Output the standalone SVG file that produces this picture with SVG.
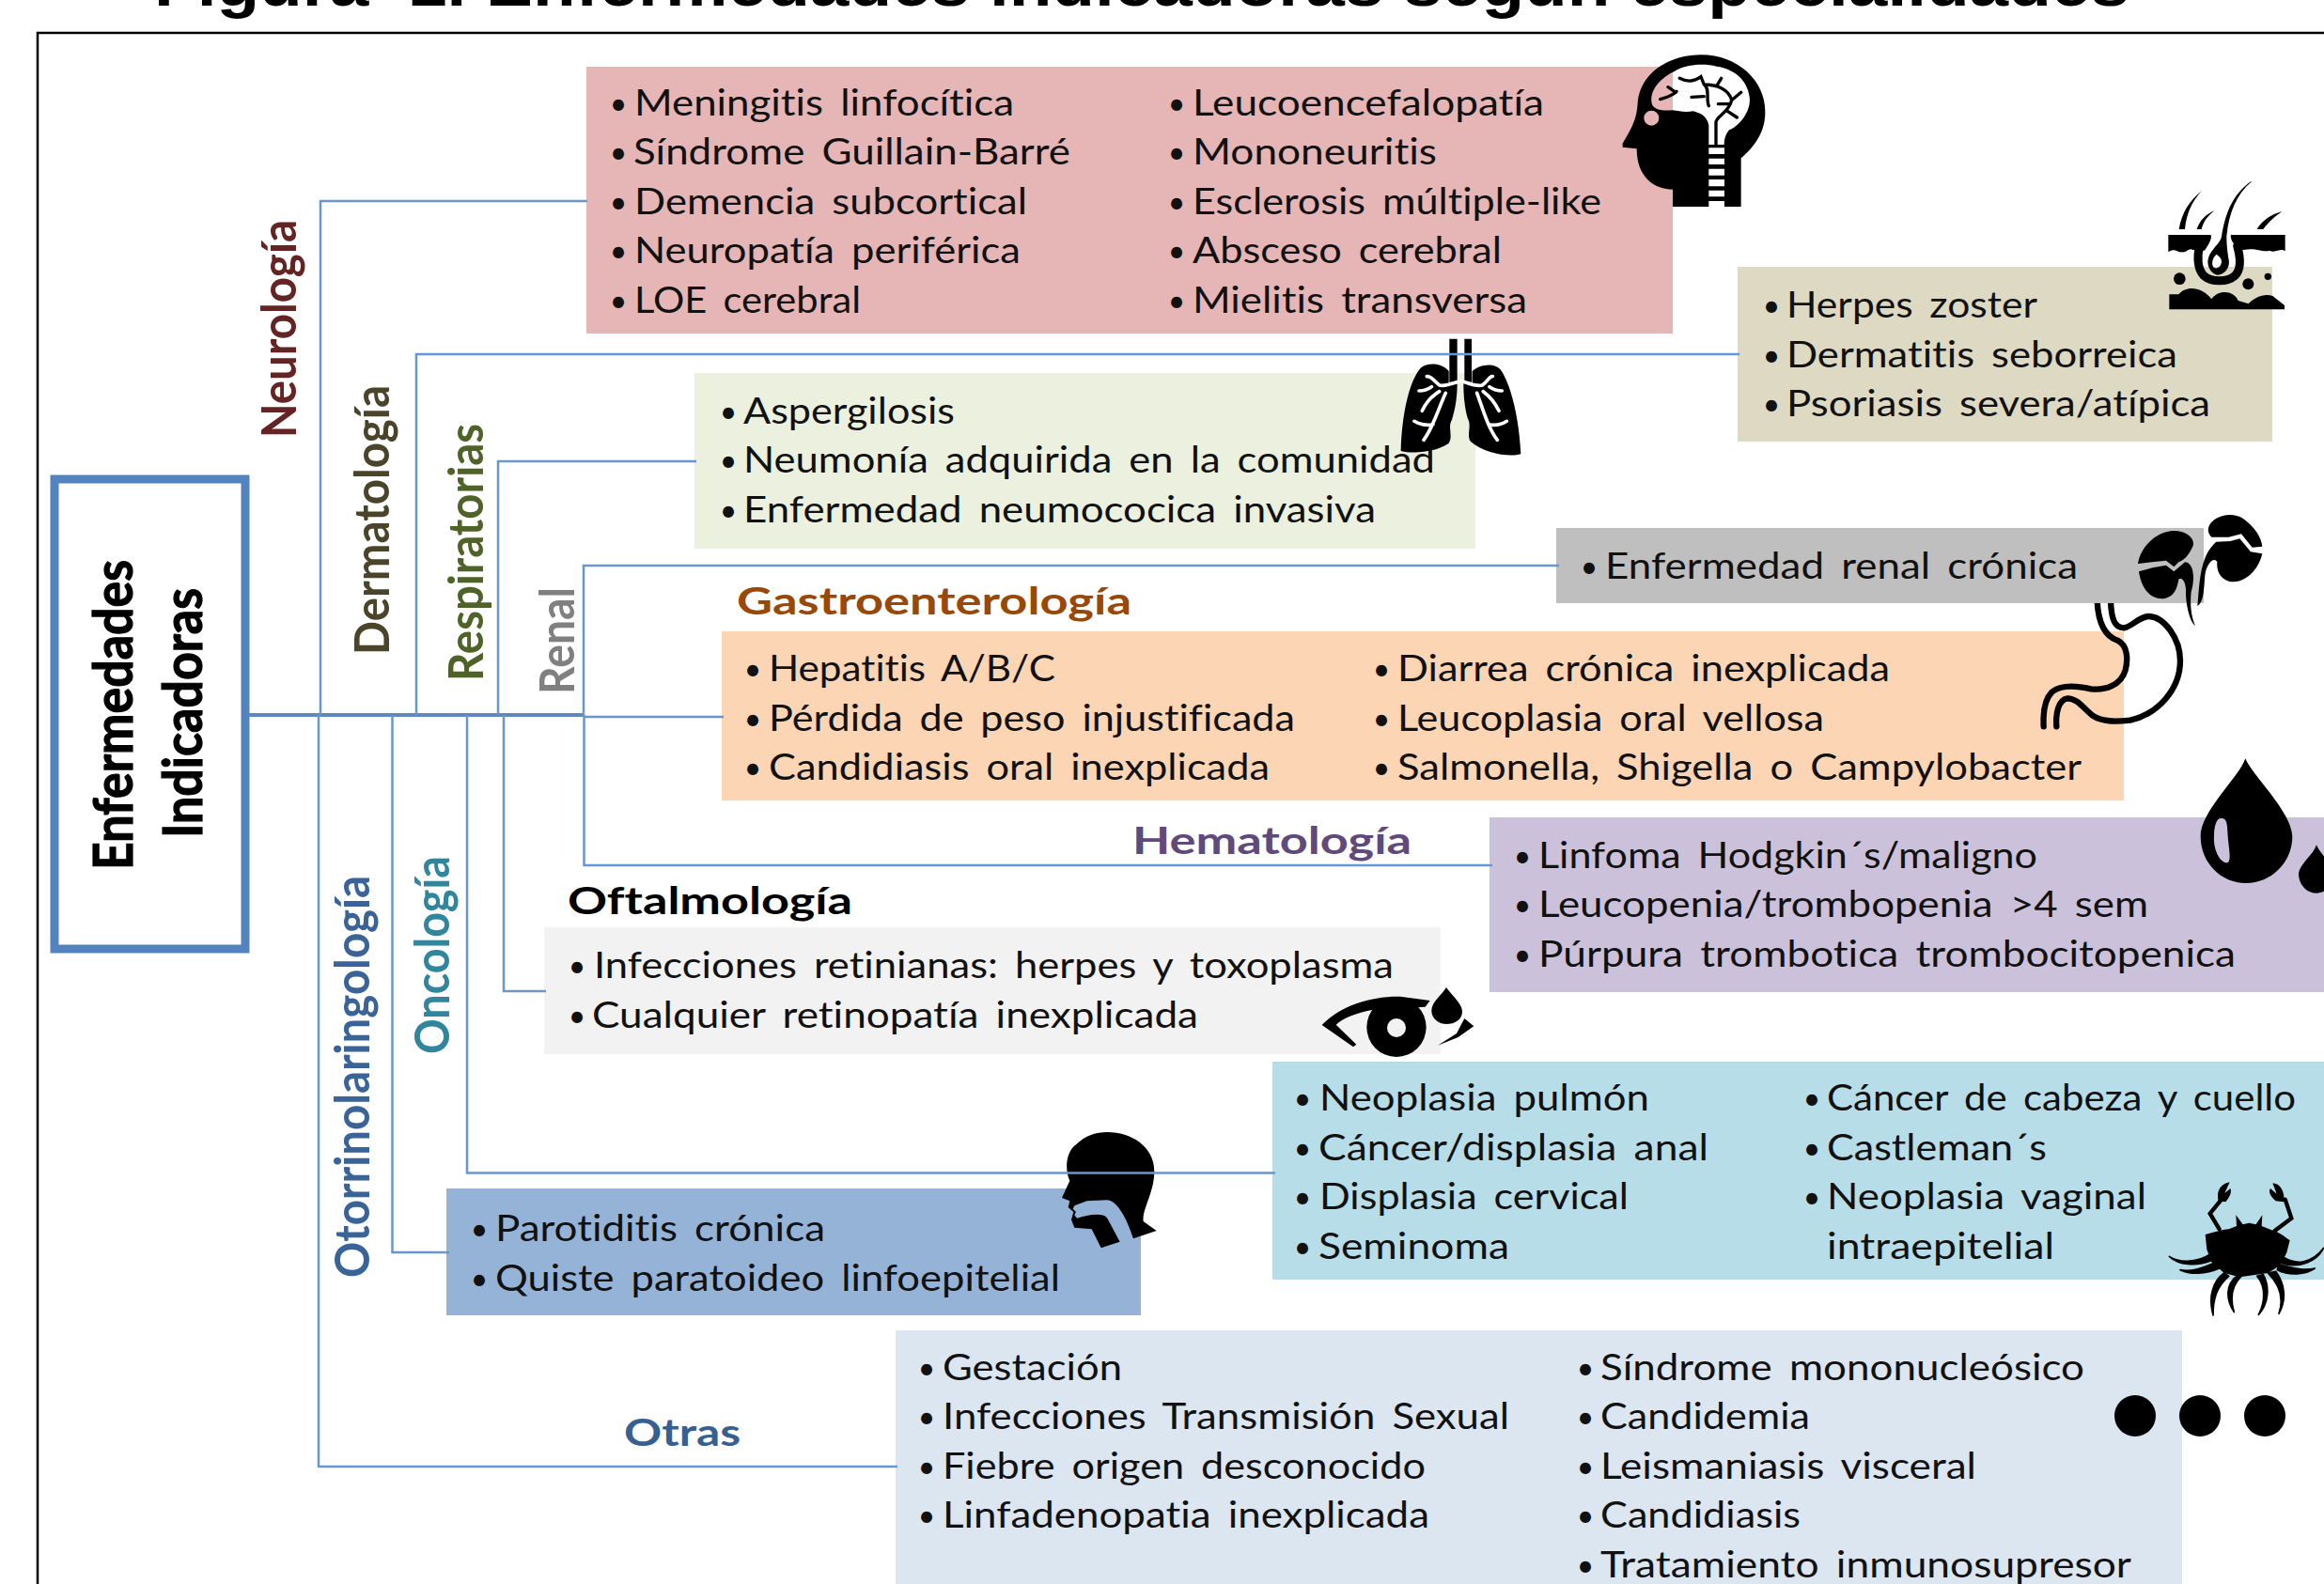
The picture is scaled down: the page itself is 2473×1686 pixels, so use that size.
<svg xmlns="http://www.w3.org/2000/svg" width="2473" height="1686" viewBox="0 0 2473 1686">
<style>
text{font-family:"Lato","Open Sans","Liberation Sans",sans-serif;fill:#111;font-variant-ligatures:none}
.t{font-size:38px;word-spacing:6px}
.b{font-size:32px;text-anchor:middle}
.h{font-size:40px;font-weight:700}
.r{font-size:52px;font-weight:700}
.m{font-size:58px;font-weight:700;fill:#000;stroke:#000;stroke-width:1.2px}
.ttl{font-family:"Liberation Sans",Arial,sans-serif;font-size:66px;font-weight:700;fill:#000}
.c{fill:none;stroke:#6a96cc;stroke-width:2.5}
.k{fill:#000;fill-rule:evenodd}
.s{fill:none;stroke:#000;stroke-linecap:round}
.w{fill:none;stroke:#fff;stroke-width:11;stroke-linecap:round}
</style>
<rect width="2473" height="1686" fill="#fff"/>
<text class="ttl" x="164" y="6" xml:space="preserve" textLength="2102" lengthAdjust="spacingAndGlyphs">Figura  1. Enfermedades indicadoras según especialidades</text>
<path d="M2473 35H40V1686" fill="none" stroke="#000" stroke-width="2.5"/>

<g id="main">
<rect x="58" y="510" width="203" height="500" fill="#fff" stroke="#5383be" stroke-width="9"/>
<text class="m" transform="translate(141 926) rotate(-90)" textLength="330" lengthAdjust="spacingAndGlyphs">Enfermedades</text>
<text class="m" transform="translate(215 892) rotate(-90)" textLength="266" lengthAdjust="spacingAndGlyphs">Indicadoras</text>
</g>

<g id="neurologia">
<text class="r" style="fill:#632423" transform="translate(315 466) rotate(-90)" textLength="232" lengthAdjust="spacingAndGlyphs">Neurología</text>
<rect x="624" y="71" width="1156" height="284" fill="#e6b5b5"/>
<text class="b" x="658" y="122">•</text><text class="t" x="675" y="123" textLength="404" lengthAdjust="spacingAndGlyphs">Meningitis linfocítica</text>
<text class="b" x="658" y="174">•</text><text class="t" x="674" y="175" textLength="465" lengthAdjust="spacingAndGlyphs">Síndrome Guillain-Barré</text>
<text class="b" x="658" y="227">•</text><text class="t" x="675" y="228" textLength="418" lengthAdjust="spacingAndGlyphs">Demencia subcortical</text>
<text class="b" x="658" y="279">•</text><text class="t" x="675" y="280" textLength="411" lengthAdjust="spacingAndGlyphs">Neuropatía periférica</text>
<text class="b" x="658" y="332">•</text><text class="t" x="675" y="333" textLength="241" lengthAdjust="spacingAndGlyphs">LOE cerebral</text>
<text class="b" x="1252" y="122">•</text><text class="t" x="1269" y="123" textLength="374" lengthAdjust="spacingAndGlyphs">Leucoencefalopatía</text>
<text class="b" x="1252" y="174">•</text><text class="t" x="1269" y="175" textLength="260" lengthAdjust="spacingAndGlyphs">Mononeuritis</text>
<text class="b" x="1252" y="227">•</text><text class="t" x="1269" y="228" textLength="435" lengthAdjust="spacingAndGlyphs">Esclerosis múltiple-like</text>
<text class="b" x="1252" y="279">•</text><text class="t" x="1269" y="280" textLength="329" lengthAdjust="spacingAndGlyphs">Absceso cerebral</text>
<text class="b" x="1252" y="332">•</text><text class="t" x="1269" y="333" textLength="356" lengthAdjust="spacingAndGlyphs">Mielitis transversa</text>
<g transform="translate(1680 40) scale(.3333)">
<path class="k" d="M300 540V485C245 485 185 450 185 355L140 350V338C165 295 185 265 188 210C195 110 290 55 390 55C510 55 595 140 595 235C597 300 560 350 518 385V540ZM232 205C228 160 270 125 305 108C340 85 400 82 440 92C500 100 540 140 545 190C552 235 510 285 480 295C468 310 464 325 464 342H415V280C410 250 385 240 365 235C340 240 320 235 300 232C260 235 235 230 232 205ZM208 257a24 24 0 1 0 48 0a24 24 0 1 0 -48 0ZM415 352H465V372H415ZM415 386H465V405H415ZM415 419H465V440H415ZM415 453H465V475H415ZM415 488H465V508H415ZM415 522H465V540H415Z"/>
<path class="s" stroke-width="10" d="M260 197C285 190 300 185 312 172M285 158L310 175M322 130C345 142 370 140 390 125L400 150C420 165 405 195 415 218M440 155L455 130M400 150C440 150 480 165 488 200L518 175M360 190L400 188M438 342V270C440 250 480 240 488 200M445 212H480M475 235L505 255"/>
</g>
</g>

<g id="dermatologia">
<text class="r" style="fill:#4a452a" transform="translate(414 697) rotate(-90)" textLength="287" lengthAdjust="spacingAndGlyphs">Dermatología</text>
<rect x="1849" y="284" width="569" height="186" fill="#ddd9c3"/>
<text class="b" x="1885" y="337">•</text><text class="t" x="1901" y="338" textLength="267" lengthAdjust="spacingAndGlyphs">Herpes zoster</text>
<text class="b" x="1885" y="390">•</text><text class="t" x="1901" y="391" textLength="416" lengthAdjust="spacingAndGlyphs">Dermatitis seborreica</text>
<text class="b" x="1885" y="442">•</text><text class="t" x="1901" y="443" textLength="451" lengthAdjust="spacingAndGlyphs">Psoriasis severa/atípica</text>
<g transform="translate(2270 170) scale(.3333)">
<path class="k" d="M112 240H248C252 255 240 270 228 290L190 288C178 280 170 298 155 295C140 298 135 280 112 295ZM312 240H485V292C470 280 455 300 435 290C415 298 395 280 352 288L335 285C322 270 308 255 312 240Z"/>
<path class="s" stroke-width="27" stroke-linecap="butt" d="M212 275C203 310 205 350 225 370C250 392 300 392 325 370C345 350 342 310 332 275"/>
<path class="k" d="M375 70C320 110 295 165 282 245C278 270 240 290 238 325C238 355 260 368 270 368C290 368 310 345 305 320C300 290 298 270 298 245C305 170 330 110 378 70ZM265 303C252 315 248 335 258 345C270 350 282 340 282 325C282 315 272 305 265 303Z"/>
<path class="k" d="M218 100C180 130 155 170 146 222H165C170 170 190 130 218 100ZM260 162C230 175 212 195 203 222H218C225 195 240 178 260 162ZM475 165C440 175 410 195 395 222H415C435 195 455 180 475 165Z"/>
<circle cx="148" cy="380" r="19"/><circle cx="367" cy="397" r="18"/><circle cx="430" cy="373" r="11"/>
<path class="k" d="M115 430H145C165 405 215 400 250 445C270 415 320 415 335 450L368 460C385 440 420 425 445 435L483 465V478H115Z"/>
</g>
</g>

<g id="respiratorias">
<text class="r" style="fill:#4f6228" transform="translate(514 725) rotate(-90)" textLength="274" lengthAdjust="spacingAndGlyphs">Respiratorias</text>
<rect x="739" y="397" width="831" height="187" fill="#ebf1de"/>
<text class="b" x="775" y="450">•</text><text class="t" x="791" y="451" textLength="225" lengthAdjust="spacingAndGlyphs">Aspergilosis</text>
<text class="b" x="775" y="502">•</text><text class="t" x="791" y="503" textLength="736" lengthAdjust="spacingAndGlyphs">Neumonía adquirida en la comunidad</text>
<text class="b" x="775" y="555">•</text><text class="t" x="791" y="556" textLength="673" lengthAdjust="spacingAndGlyphs">Enfermedad neumococica invasiva</text>
<g transform="translate(1460 340) scale(.3333)">
<path class="k" d="M247 62H272V200H247ZM295 62H318V200H295ZM245 165C225 140 180 135 155 155C120 195 95 300 92 420C130 430 200 425 245 395C260 370 240 345 255 320C268 280 272 240 272 205L245 205ZM320 165C340 145 390 135 410 160C445 210 470 320 475 430C440 440 360 430 315 390C300 370 320 340 305 315C295 280 292 240 292 205H320Z"/>
<path class="w" stroke-width="9" d="M280 197C255 205 235 215 215 210C195 195 190 180 175 182M150 228C165 228 180 222 190 215M235 235C210 290 195 345 165 385M215 230C190 245 170 270 160 292M195 335C175 340 150 335 135 325M288 197C312 205 332 215 352 210C372 195 375 180 385 182M415 228C400 228 385 222 375 215M335 235C355 290 370 345 400 385M355 230C375 245 395 270 405 292M372 335C392 340 415 335 430 325"/>
</g>
</g>

<g id="gastroenterologia">
<text class="h" style="fill:#984807" x="784" y="654" textLength="420" lengthAdjust="spacingAndGlyphs">Gastroenterología</text>
<rect x="768" y="672" width="1492" height="180" fill="#fcd5b5"/>
<text class="b" x="801" y="724">•</text><text class="t" x="818" y="725" textLength="305" lengthAdjust="spacingAndGlyphs">Hepatitis A/B/C</text>
<text class="b" x="801" y="777">•</text><text class="t" x="818" y="778" textLength="560" lengthAdjust="spacingAndGlyphs">Pérdida de peso injustificada</text>
<text class="b" x="801" y="829">•</text><text class="t" x="818" y="830" textLength="533" lengthAdjust="spacingAndGlyphs">Candidiasis oral inexplicada</text>
<text class="b" x="1470" y="724">•</text><text class="t" x="1487" y="725" textLength="524" lengthAdjust="spacingAndGlyphs">Diarrea crónica inexplicada</text>
<text class="b" x="1470" y="777">•</text><text class="t" x="1487" y="778" textLength="454" lengthAdjust="spacingAndGlyphs">Leucoplasia oral vellosa</text>
<text class="b" x="1470" y="829">•</text><text class="t" x="1487" y="830" textLength="728" lengthAdjust="spacingAndGlyphs">Salmonella, Shigella o Campylobacter</text>
<g transform="translate(2150 530) scale(.3333)">
<path class="s" stroke-width="19" d="M245 330C248 390 265 440 310 455C340 470 345 510 335 550C320 600 270 615 225 610C180 600 130 595 100 620C75 645 72 690 74 730"/>
<path class="s" stroke-width="19" d="M288 330C290 385 300 415 330 415C360 410 375 380 410 378C460 380 510 450 510 520C510 610 440 690 350 710C300 715 260 715 230 695C200 670 180 640 150 640C120 645 112 690 115 730"/>
</g>
</g>

<g id="renal">
<text class="r" style="fill:#808080" transform="translate(611 739) rotate(-90)" textLength="114" lengthAdjust="spacingAndGlyphs">Renal</text>
<rect x="1656" y="562" width="689" height="80" fill="#bfbfbf"/>
<text class="b" x="1691" y="615">•</text><text class="t" x="1708" y="616" textLength="503" lengthAdjust="spacingAndGlyphs">Enfermedad renal crónica</text>
<g transform="translate(2150 530) scale(.3333)">
<path class="k" d="M375 210C385 150 440 105 490 105C530 105 560 130 550 155C540 175 530 195 505 205L490 220L465 200L420 205Z"/>
<path class="k" d="M378 235L425 222L465 215L490 235L525 205C550 205 560 250 545 300C540 350 548 385 558 408C540 395 528 340 528 300C530 270 515 250 505 260C500 290 490 320 450 322C410 320 385 285 378 235Z"/>
<path class="k" d="M600 95C610 60 670 40 710 65C745 90 770 125 772 155L740 158L705 115L665 125L610 125C600 115 598 105 600 95Z"/>
<path class="k" d="M625 140L670 138L700 130L735 172L772 178C760 230 720 268 680 268C650 268 625 245 628 205C620 190 600 200 590 240C585 285 588 330 565 345C570 300 570 240 590 190C600 165 615 150 625 140Z"/>
</g>
</g>

<g id="hematologia">
<text class="h" style="fill:#604a7b" x="1205" y="909" textLength="297" lengthAdjust="spacingAndGlyphs">Hematología</text>
<rect x="1585" y="870" width="888" height="186" fill="#ccc1da"/>
<text class="b" x="1620" y="923">•</text><text class="t" x="1637" y="924" textLength="531" lengthAdjust="spacingAndGlyphs">Linfoma Hodgkin´s/maligno</text>
<text class="b" x="1620" y="975">•</text><text class="t" x="1637" y="976" textLength="649" lengthAdjust="spacingAndGlyphs">Leucopenia/trombopenia >4 sem</text>
<text class="b" x="1620" y="1028">•</text><text class="t" x="1637" y="1029" textLength="742" lengthAdjust="spacingAndGlyphs">Púrpura trombotica trombocitopenica</text>
<g transform="translate(2320 790) scale(.3333)">
<path class="k" d="M208 52C225 100 355 220 358 300C358 385 290 450 210 450C130 450 65 385 65 300C65 220 190 110 208 52ZM128 243C150 240 150 260 152 300C155 340 165 380 150 385C125 385 105 340 108 300C108 270 115 245 128 243Z"/>
<path class="k" d="M435 328C445 355 480 380 490 420C490 460 460 482 435 482C400 482 378 450 378 420C380 390 425 360 435 328Z"/>
</g>
</g>

<g id="oftalmologia">
<text class="h" style="fill:#000" x="604" y="973" textLength="303" lengthAdjust="spacingAndGlyphs">Oftalmología</text>
<rect x="579" y="987" width="954" height="135" fill="#f2f2f2"/>
<text class="b" x="614" y="1040">•</text><text class="t" x="632" y="1041" textLength="851" lengthAdjust="spacingAndGlyphs">Infecciones retinianas: herpes y toxoplasma</text>
<text class="b" x="614" y="1093">•</text><text class="t" x="630" y="1094" textLength="645" lengthAdjust="spacingAndGlyphs">Cualquier retinopatía inexplicada</text>
<g transform="translate(1380 1030) scale(.3333)">
<circle cx="318" cy="190" r="95" class="k"/><circle cx="318" cy="192" r="30" fill="#f2f2f2"/>
<path class="k" d="M80 183C140 120 240 90 330 92L425 105L410 125L240 135C190 145 150 160 125 182L190 245L180 253Z"/>
<path class="k" d="M477 63C500 95 528 115 528 140C528 165 505 180 477 180C450 180 430 160 430 138C430 110 460 90 477 63ZM450 248L510 210L535 162L565 187L515 222Z"/>
</g>
</g>

<g id="oncologia">
<text class="r" style="fill:#31859c" transform="translate(478 1122) rotate(-90)" textLength="211" lengthAdjust="spacingAndGlyphs">Oncología</text>
<rect x="1354" y="1130" width="1119" height="232" fill="#b7dde8"/>
<text class="b" x="1386" y="1181">•</text><text class="t" x="1404" y="1182" textLength="351" lengthAdjust="spacingAndGlyphs">Neoplasia pulmón</text>
<text class="b" x="1386" y="1234">•</text><text class="t" x="1403" y="1235" textLength="415" lengthAdjust="spacingAndGlyphs">Cáncer/displasia anal</text>
<text class="b" x="1386" y="1286">•</text><text class="t" x="1404" y="1287" textLength="329" lengthAdjust="spacingAndGlyphs">Displasia cervical</text>
<text class="b" x="1386" y="1339">•</text><text class="t" x="1403" y="1340" textLength="203" lengthAdjust="spacingAndGlyphs">Seminoma</text>
<text class="b" x="1928" y="1181">•</text><text class="t" x="1944" y="1182" textLength="499" lengthAdjust="spacingAndGlyphs">Cáncer de cabeza y cuello</text>
<text class="b" x="1928" y="1234">•</text><text class="t" x="1944" y="1235" textLength="234" lengthAdjust="spacingAndGlyphs">Castleman´s</text>
<text class="b" x="1928" y="1286">•</text><text class="t" x="1944" y="1287" textLength="340" lengthAdjust="spacingAndGlyphs">Neoplasia vaginal</text>
<text class="t" x="1944" y="1340" textLength="242" lengthAdjust="spacingAndGlyphs">intraepitelial</text>
<g transform="translate(2290 1240) scale(.3333)">
<path class="k" d="M170 222C200 215 230 205 245 205L270 195L268 160L290 190L310 185L332 190L352 160L350 195L380 207C410 215 430 235 440 240L430 280L410 320L370 345L280 358L230 345L190 310L175 270Z"/>
<path class="s" stroke-width="13" d="M215 205L185 155L222 110M392 210L445 170L425 110"/>
<path class="k" d="M248 55C215 60 205 90 212 115L235 118C250 100 255 85 250 75L232 90ZM385 58C415 60 425 95 420 118L395 115C378 100 370 85 378 75L398 92Z"/>
<path class="k" stroke="#000" stroke-width="5" stroke-linejoin="round" d="M55 292C90 315 150 310 185 285L190 305C140 325 85 320 55 292ZM90 335C130 345 180 320 205 310L215 330C170 350 120 350 90 335ZM548 265C510 315 460 320 420 295L415 315C470 330 525 310 548 265ZM520 330C480 340 440 325 405 318L400 335C440 355 490 350 520 330ZM230 345C195 370 178 420 195 480C195 430 205 390 245 355ZM270 355C235 380 235 430 262 470C250 430 250 390 285 355ZM335 355C365 390 360 440 340 478C375 440 375 385 355 350ZM370 345C410 385 420 430 405 475C430 430 425 380 395 340Z"/>
</g>
</g>

<g id="otorrinolaringologia">
<text class="r" style="fill:#3a6398" transform="translate(393 1360) rotate(-90)" textLength="428" lengthAdjust="spacingAndGlyphs">Otorrinolaringología</text>
<rect x="475" y="1265" width="739" height="135" fill="#95b3d7"/>
<text class="b" x="510" y="1320">•</text><text class="t" x="527" y="1321" textLength="351" lengthAdjust="spacingAndGlyphs">Parotiditis crónica</text>
<text class="b" x="510" y="1373">•</text><text class="t" x="527" y="1374" textLength="601" lengthAdjust="spacingAndGlyphs">Quiste paratoideo linfoepitelial</text>
<g transform="translate(1110 1190) scale(.3333)">
<path class="k" d="M205 45C280 45 355 90 355 170C355 240 315 290 320 330L362 360L288 385C270 330 240 265 205 262L140 265L100 280L95 290L105 300L100 310L108 320C140 310 190 300 205 320L245 395L185 415L155 355L100 350L90 325L97 300L80 285L85 265L60 255L85 200C70 170 70 110 105 85C135 55 170 45 205 45Z"/>
</g>
</g>

<g id="otras">
<text class="h" style="fill:#366092" x="664" y="1539" textLength="124" lengthAdjust="spacingAndGlyphs">Otras</text>
<rect x="953" y="1416" width="1369" height="270" fill="#dce6f1"/>
<text class="b" x="986" y="1468">•</text><text class="t" x="1003" y="1469" textLength="191" lengthAdjust="spacingAndGlyphs">Gestación</text>
<text class="b" x="986" y="1520">•</text><text class="t" x="1003" y="1521" textLength="603" lengthAdjust="spacingAndGlyphs">Infecciones Transmisión Sexual</text>
<text class="b" x="986" y="1573">•</text><text class="t" x="1003" y="1574" textLength="514" lengthAdjust="spacingAndGlyphs">Fiebre origen desconocido</text>
<text class="b" x="986" y="1625">•</text><text class="t" x="1003" y="1626" textLength="518" lengthAdjust="spacingAndGlyphs">Linfadenopatia inexplicada</text>
<text class="b" x="1687" y="1468">•</text><text class="t" x="1703" y="1469" textLength="515" lengthAdjust="spacingAndGlyphs">Síndrome mononucleósico</text>
<text class="b" x="1687" y="1520">•</text><text class="t" x="1703" y="1521" textLength="223" lengthAdjust="spacingAndGlyphs">Candidemia</text>
<text class="b" x="1687" y="1573">•</text><text class="t" x="1703" y="1574" textLength="400" lengthAdjust="spacingAndGlyphs">Leismaniasis visceral</text>
<text class="b" x="1687" y="1625">•</text><text class="t" x="1703" y="1626" textLength="213" lengthAdjust="spacingAndGlyphs">Candidiasis</text>
<text class="b" x="1687" y="1678">•</text><text class="t" x="1703" y="1679" textLength="565" lengthAdjust="spacingAndGlyphs">Tratamiento inmunosupresor</text>
<circle cx="2272" cy="1507" r="22"/><circle cx="2341" cy="1507" r="22"/><circle cx="2410" cy="1507" r="22"/>
</g>

<g id="connectors">
<path d="M265 761H621" fill="none" stroke="#5a88c2" stroke-width="4"/>
<path class="c" d="M621 763H770"/>
<path class="c" d="M341 761V214H625"/>
<path class="c" d="M443 761V377H1851"/>
<path class="c" d="M530 761V491H741"/>
<path class="c" d="M621 761V602H1659"/>
<path class="c" d="M339 761V1561H955"/>
<path class="c" d="M417.500 761V1333H478"/>
<path class="c" d="M497 761V1248.500H1357"/>
<path class="c" d="M536 761V1055H581"/>
<path class="c" d="M621.500 761V921H1588"/>
</g>
</svg>
